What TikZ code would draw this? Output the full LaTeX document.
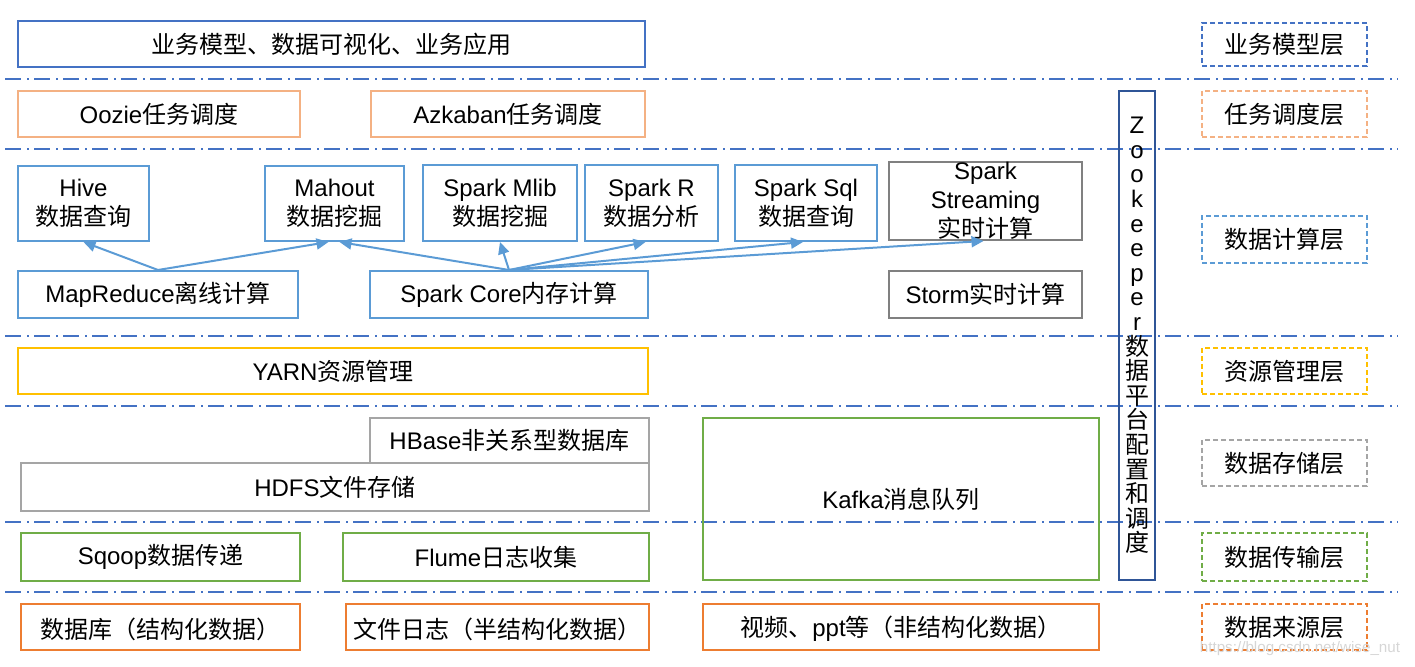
\documentclass[tikz,border=0pt]{standalone}
\usepackage{fontspec}
\setmainfont{Liberation Sans}
\newfontfamily\cjk{Noto Sans CJK SC}
\usetikzlibrary{arrows.meta,fit}
\definecolor{cTop}{HTML}{4472C4}
\definecolor{cOrL}{HTML}{F4B183}
\definecolor{cSky}{HTML}{5B9BD5}
\definecolor{cGray}{HTML}{808080}
\definecolor{cLGray}{HTML}{A5A5A5}
\definecolor{cYel}{HTML}{FFC000}
\definecolor{cGrn}{HTML}{70AD47}
\definecolor{cOr}{HTML}{ED7D31}
\definecolor{cZk}{HTML}{2F5597}
\definecolor{cSep}{HTML}{4472C4}
\newcommand\zh[1]{{\cjk #1}}
\begin{document}
\begin{tikzpicture}[x=0.5pt,y=-0.5pt,
  font=\fontsize{12pt}{14.5pt}\selectfont,
  box/.style={draw=#1, line width=1pt, inner sep=0pt},
  dbox/.style={draw=#1, line width=1pt, inner sep=0pt, dash pattern=on 2.5pt off 1.5pt},
  lbl/.style={align=center, inner sep=0pt},
  sepline/.style={draw=cSep, line width=1pt, dash pattern=on 8pt off 3pt on 1pt off 2.5pt},
  arr/.style={draw=cSky, line width=1pt, -{Triangle[length=6pt,width=5.5pt]}}
]
\useasboundingbox (0,0) rectangle (1415,667);

% separators
\draw[sepline] (5,79) -- (1398,79);
\draw[sepline] (5,149) -- (1398,149);
\draw[sepline] (5,336) -- (1398,336);
\draw[sepline] (5,406) -- (1398,406);
\draw[sepline] (5,522) -- (1398,522);
\draw[sepline] (5,592) -- (1398,592);

% business layer
\node[box=cTop, fit={(18,21)(645,67)}, label={[lbl]center:\zh{业务模型、数据可视化、业务应用}}] (biz) {};

% scheduling
\node[box=cOrL, fit={(18,91)(300,137)}, label={[lbl]center:Oozie\zh{任务调度}}] (oozie) {};
\node[box=cOrL, fit={(371,91)(645,137)}, label={[lbl]center:Azkaban\zh{任务调度}}] (azk) {};

% compute
\node[box=cSky, fit={(18,166)(149,241)}, label={[lbl]center:Hive\\\zh{数据查询}}] (hive) {};
\node[box=cSky, fit={(265,166)(404,241)}, label={[lbl]center:Mahout\\\zh{数据挖掘}}] (mahout) {};
\node[box=cSky, fit={(423,165)(577,241)}, label={[lbl]center:Spark Mlib\\\zh{数据挖掘}}] (mlib) {};
\node[box=cSky, fit={(585,165)(718,241)}, label={[lbl]center:Spark R\\\zh{数据分析}}] (sparkr) {};
\node[box=cSky, fit={(735,165)(877,241)}, label={[lbl]center:Spark Sql\\\zh{数据查询}}] (sql) {};
\node[box=cGray, fit={(889,162)(1082,240)}, label={[lbl]center:Spark\\Streaming\\\zh{实时计算}}] (stream) {};
\node[box=cSky, fit={(18,271)(298,318)}, label={[lbl]center:MapReduce\zh{离线计算}}] (mr) {};
\node[box=cSky, fit={(370,271)(648,318)}, label={[lbl]center:Spark Core\zh{内存计算}}] (core) {};
\node[box=cGray, fit={(889,271)(1082,318)}, label={[lbl]center:Storm\zh{实时计算}}] (storm) {};

\draw[arr] (mr.north) -- (hive.south);
\draw[arr] (mr.north) -- ([xshift=-3pt]mahout.south);
\draw[arr] (core.north) -- ([xshift=2.5pt]mahout.south);
\draw[arr] (core.north) -- (mlib.south);
\draw[arr] (core.north) -- ([xshift=-3pt]sparkr.south);
\draw[arr] (core.north) -- ([xshift=-1.5pt]sql.south);
\draw[arr] (core.north) -- ([xshift=-1pt]stream.south);

% resource
\node[box=cYel, fit={(18,348)(648,394)}, label={[lbl]center:YARN\zh{资源管理}}] (yarn) {};

% storage
\node[box=cLGray, fit={(370,418)(649,463)}, label={[lbl]center:HBase\zh{非关系型数据库}}] (hbase) {};
\node[box=cLGray, fit={(21,463)(649,511)}, label={[lbl]center:HDFS\zh{文件存储}}] (hdfs) {};
\node[box=cGrn, fit={(703,418)(1099,580)}, label={[lbl]center:Kafka\zh{消息队列}}] (kafka) {};

% transfer
\node[box=cGrn, fit={(21,533)(300,581)}, label={[lbl]center:Sqoop\zh{数据传递}}] (sqoop) {};
\node[box=cGrn, fit={(343,533)(649,581)}, label={[lbl]center:Flume\zh{日志收集}}] (flume) {};

% sources
\node[box=cOr, fit={(21,604)(300,650)}, label={[lbl, yshift=-1pt]center:\zh{数据库（结构化数据）}}] (db) {};
\node[box=cOr, fit={(346,604)(649,650)}, label={[lbl, yshift=-1pt]center:\zh{文件日志（半结构化数据）}}] (logs) {};
\node[box=cOr, fit={(703,604)(1099,650)}, label={[lbl, yshift=-1pt]center:\zh{视频、}ppt\zh{等（非结构化数据）}}] (video) {};

% zookeeper
\node[box=cZk, fit={(1119,91)(1155,580)}, label={[lbl, font=\fontsize{12pt}{12.3pt}\selectfont]center:Z\\o\\o\\k\\e\\e\\p\\e\\r\\\zh{数}\\\zh{据}\\\zh{平}\\\zh{台}\\\zh{配}\\\zh{置}\\\zh{和}\\\zh{调}\\\zh{度}}] (zk) {};

% layer labels
\node[dbox=cTop, fit={(1202,23)(1367,66)}, label={[lbl]center:\zh{业务模型层}}] (l1) {};
\node[dbox=cOrL, fit={(1202,91)(1367,137)}, label={[lbl]center:\zh{任务调度层}}] (l2) {};
\node[dbox=cSky, fit={(1202,216)(1367,263)}, label={[lbl]center:\zh{数据计算层}}] (l3) {};
\node[dbox=cYel, fit={(1202,348)(1367,394)}, label={[lbl]center:\zh{资源管理层}}] (l4) {};
\node[dbox=cLGray, fit={(1202,440)(1367,486)}, label={[lbl]center:\zh{数据存储层}}] (l5) {};
\node[dbox=cGrn, fit={(1202,533)(1367,581)}, label={[lbl]center:\zh{数据传输层}}] (l6) {};
\node[dbox=cOr, fit={(1202,604)(1367,650)}, label={[lbl]center:\zh{数据来源层}}] (l7) {};

% watermark
\node[font=\fontsize{7.6pt}{8pt}\selectfont, text=black!16, inner sep=0pt] (wm) at (1300,649) {https://blog.csdn.net/wise\_nut};
\end{tikzpicture}
\end{document}
